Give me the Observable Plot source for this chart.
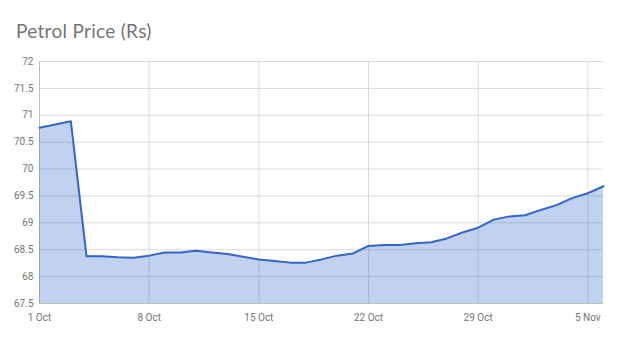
<!DOCTYPE html>
<html><head><meta charset="utf-8">
<script src="https://cdn.jsdelivr.net/npm/d3@7"></script>
<script src="https://cdn.jsdelivr.net/npm/@observablehq/plot@0.6"></script>
<style>
body{margin:0;background:#fff;width:620px;height:340px;overflow:hidden;position:relative;}
#title{position:absolute;top:21px;left:16px;font-family:Lato,"Open Sans",sans-serif;font-size:19px;line-height:19px;color:#757575;letter-spacing:0.3px;}
#chart{position:absolute;top:44px;left:0;}
</style></head><body>
<div id="title">Petrol Price (Rs)</div>
<div id="chart"></div>
<script>
const dates = ["2018-10-01","2018-10-02","2018-10-03","2018-10-04","2018-10-05","2018-10-06","2018-10-07",
  "2018-10-08","2018-10-09","2018-10-10","2018-10-11","2018-10-12","2018-10-13","2018-10-14",
  "2018-10-15","2018-10-16","2018-10-17","2018-10-18","2018-10-19","2018-10-20","2018-10-21",
  "2018-10-22","2018-10-23","2018-10-24","2018-10-25","2018-10-26","2018-10-27","2018-10-28",
  "2018-10-29","2018-10-30","2018-10-31","2018-11-01","2018-11-02","2018-11-03","2018-11-04",
  "2018-11-05","2018-11-06"];
const prices = [70.77,70.83,70.89,68.38,68.38,68.36,68.35,
  68.39,68.45,68.45,68.48,68.45,68.42,68.37,
  68.32,68.29,68.26,68.26,68.32,68.39,68.43,
  68.57,68.59,68.59,68.62,68.64,68.71,68.82,
  68.91,69.06,69.12,69.14,69.24,69.33,69.46,69.55,69.68];
const yTicks = [67.5,68,68.5,69,69.5,70,70.5,71,71.5,72];
const xTicks = ["2018-10-01","2018-10-08","2018-10-15","2018-10-22","2018-10-29","2018-11-05"];

const data = dates.map((d,i)=>({date:new Date(d+"T00:00:00Z"), price:prices[i]}));
const xTickDates = xTicks.map(d=>new Date(d+"T00:00:00Z"));
const fmt = d3.utcFormat("%-d %b");

const chart = Plot.plot({
  width:620, height:296,
  marginLeft:39, marginRight:17, marginTop:17, marginBottom:37,
  style:{fontFamily:"Roboto, sans-serif", fontSize:"10px", color:"#757575", background:"transparent"},
  x:{type:"utc", domain:[new Date("2018-10-01T00:00:00Z"), new Date("2018-11-06T00:00:00Z")]},
  y:{domain:[67.5,72]},
  marks:[
    Plot.gridY(yTicks,{stroke:"#d9d9d9", strokeOpacity:1}),
    Plot.gridX(xTickDates,{stroke:"#d9d9d9", strokeOpacity:1}),
    Plot.ruleX([new Date("2018-10-01T00:00:00Z")],{stroke:"#bdbdbd"}),
    Plot.ruleY([67.5],{stroke:"#bdbdbd"}),
    Plot.areaY(data,{x:"date", y1:67.5, y2:"price", fill:"#3366cc", fillOpacity:0.3}),
    Plot.lineY(data,{x:"date", y:"price", stroke:"#3366cc", strokeWidth:2}),
    Plot.axisY(yTicks,{tickSize:0, tickPadding:6, tickFormat:d=>`${d}`, label:null, fill:"#757575"}),
    Plot.axisX(xTickDates,{tickSize:0, tickPadding:10, tickFormat:fmt, label:null, fill:"#757575"})
  ]
});
document.getElementById("chart").appendChild(chart);
</script>
</body></html>
